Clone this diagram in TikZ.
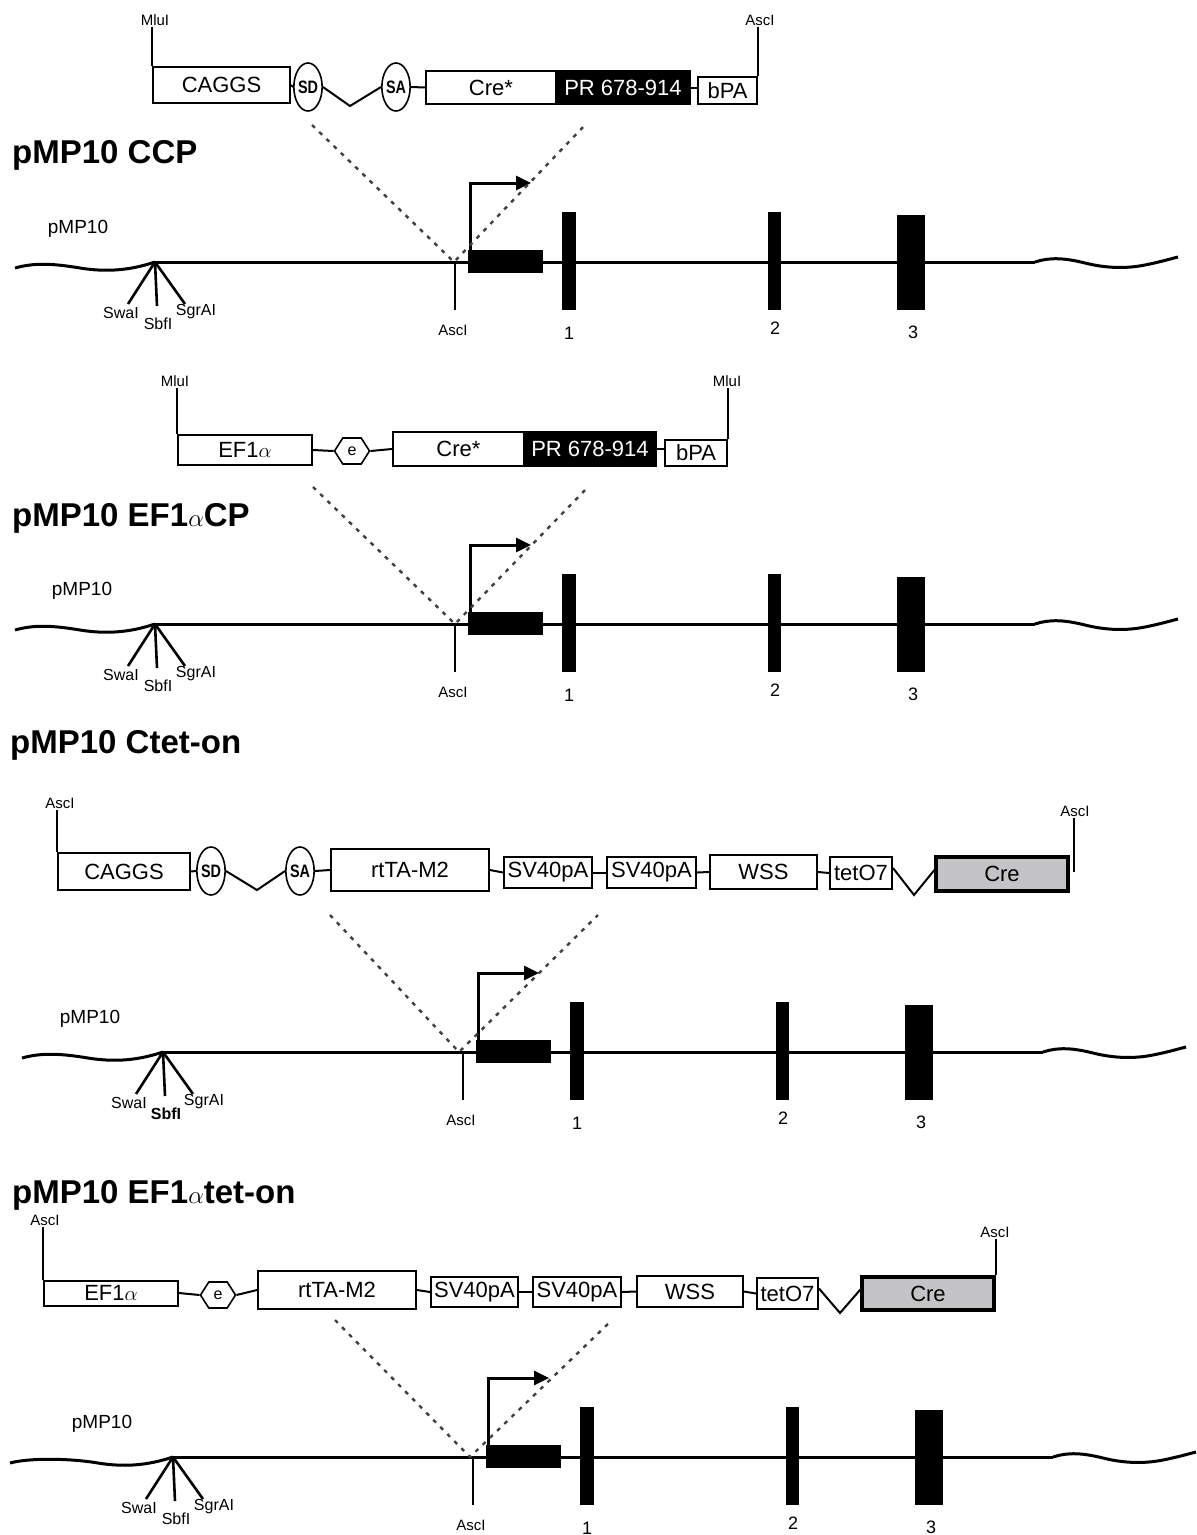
\documentclass[tikz,border=0pt]{standalone}
\usepackage{fontspec}
\setmainfont{Liberation Sans}
\usetikzlibrary{shapes.geometric,shapes.symbols,arrows.meta,calc}
\definecolor{creg}{RGB}{196,196,198}
\newcommand\drawlocus[6]{%
\begin{scope}[shift={(#2,#3)}]
\coordinate (#1apex) at (155,0);
\coordinate (#1end) at (1035,0);
\coordinate (#1ws) at (#4,6);
\coordinate (#1we) at (1178,-5);
\draw[dna] (#1ws) .. controls (#4+18,1) and (50,1) .. (80,6) .. controls (105,10) and (128,9) .. (#1apex);
\draw[dna] (#1end) .. controls (1050,-5) and (1065,-4) .. (1085,1) .. controls (1105,6) and (1125,7) .. (1145,3) .. controls (1160,0) and (1170,-3) .. (#1we);
\draw[dna] (#1apex) -- (#1end);
\coordinate (#1f1) at (128,42);
\coordinate (#1f2) at (157,44);
\coordinate (#1f3) at (185,42);
\draw[fanl] (#1apex) -- (#1f1);
\draw[fanl] (#1apex) -- (#1f2);
\draw[fanl] (#1apex) -- (#1f3);
\node[small] (#1swa) at (121,51) {SwaI};
\node[small,font=\fontsize{16}{16}\selectfont#5] (#1sbf) at (158,62) {SbfI};
\node[small] (#1sgr) at (196,50) {SgrAI};
\node[lab] (#1pmp) at (#6,-33) {pMP10};
\coordinate (#1a0) at (455,0);
\coordinate (#1a1) at (455,48);
\draw[sitel] (#1a0) -- (#1a1);
\node[site] (#1al) at (453,68) {AscI};
\node[exon,minimum width=75,minimum height=23] (#1ex0) at (505.5,-0.5) {};
\node[exon,minimum width=14,minimum height=98] (#1ex1) at (569,-1) {};
\node[exon,minimum width=13,minimum height=98] (#1ex2) at (774.5,-1) {};
\node[exon,minimum width=28,minimum height=95] (#1ex3) at (911,0.5) {};
\node[num] (#1n1) at (569,71) {1};
\node[num] (#1n2) at (775,66) {2};
\node[num] (#1n3) at (913,70) {3};
\coordinate (#1ps) at (470,-12);
\coordinate (#1pc) at (470,-79);
\coordinate (#1pe) at (531,-79);
\draw[prom] (#1ps) -- (#1pc) -- (#1pe);
\end{scope}}
\begin{document}
\begin{tikzpicture}[x=1pt,y=-1pt,
  bx/.style={draw,line width=2pt,inner sep=0pt,font=\fontsize{22}{22}\selectfont},
  blackbox/.style={bx,fill=black,text=white},
  crebox/.style={bx,fill=creg,line width=3.2pt},
  splice/.style={draw,ellipse,line width=1.6pt,inner sep=0pt,minimum width=28pt,minimum height=48pt,font=\fontsize{18}{18}\selectfont\bfseries},
  enh/.style={draw,signal,signal to=west and east,signal pointer angle=115,line width=1.6pt,inner sep=0pt,minimum width=35pt,minimum height=26pt,font=\fontsize{16}{16}\selectfont},
  site/.style={font=\fontsize{15}{15}\selectfont,inner sep=1.5pt},
  small/.style={font=\fontsize{16}{16}\selectfont,inner sep=1pt},
  lab/.style={font=\fontsize{19}{19}\selectfont,inner sep=1pt},
  num/.style={font=\fontsize{18}{18}\selectfont,inner sep=1pt},
  ttl/.style={font=\fontsize{33}{33}\selectfont\bfseries,inner sep=0pt,anchor=west},
  link/.style={line width=2pt},
  sitel/.style={line width=2pt},
  dna/.style={line width=3pt},
  fanl/.style={line width=2.6pt},
  exon/.style={fill=black,draw=none,inner sep=0pt},
  prom/.style={line width=3pt,-{Triangle[length=15pt,width=14pt]}},
  ins/.style={line width=2.4pt,dash pattern=on 4pt off 6pt,black!75},
]
\useasboundingbox (0,0) rectangle (1197,1535);

% ---------------- panel 1 ----------------
\node[site] (p1m) at (155,20) {MluI};
\node[bx,minimum width=137,minimum height=36] (p1cag) at (221.5,85) {CAGGS};
\node[splice] (p1sd) at (308,87) {\scalebox{0.8}[1]{SD}};
\node[splice] (p1sa) at (396,87) {\scalebox{0.8}[1]{SA}};
\coordinate (p1v) at (350,106);
\node[bx,minimum width=130,minimum height=33] (p1cre) at (491,87.5) {Cre*};
\node[blackbox,minimum width=134,minimum height=33] (p1pr) at (623,87.5) {PR 678-914};
\node[bx,minimum width=59,minimum height=27] (p1bpa) at (727.5,90.5) {bPA};
\node[site] (p1a) at (760,20) {AscI};
\draw[sitel] (p1cag.north west) -- (p1cag.north west |- p1m.south);
\draw[sitel] (p1bpa.north east) -- (p1bpa.north east |- p1a.south);
\draw[link] (p1cag.east) -- (p1sd.west);
\draw[link] (p1sd.east) -- (p1v) -- (p1sa.west);
\draw[link] (p1sa.east) -- (p1cre.west);
\draw[link] (p1pr.east) -- (p1pr.east -| p1bpa.west);
\node[ttl] (t1) at (12,155) {pMP10 CCP};
\drawlocus{g1}{0}{262}{15}{}{78}
\coordinate (d1l) at (312,125);
\coordinate (d1r) at (585,125);
\coordinate (d1b) at (454,262);
\draw[ins] (d1l) -- (d1b) -- (d1r);

% ---------------- panel 2 ----------------
\node[site] (p2m) at (175,381) {MluI};
\node[bx,minimum width=134,minimum height=30] (p2ef) at (245,450) {EF1$\alpha$};
\node[enh] (p2e) at (352,451) {e};
\node[bx,minimum width=131,minimum height=34] (p2cre) at (458.5,449) {Cre*};
\node[blackbox,minimum width=132,minimum height=34] (p2pr) at (590,449) {PR 678-914};
\node[bx,minimum width=62,minimum height=26] (p2bpa) at (696,453) {bPA};
\node[site] (p2m2) at (727,381) {MluI};
\draw[sitel] (p2ef.north west) -- (p2ef.north west |- p2m.south);
\draw[sitel] (p2bpa.north east) -- (p2bpa.north east |- p2m2.south);
\draw[link] (p2ef.east) -- (p2e.west);
\draw[link] (p2e.east) -- (p2cre.west);
\draw[link] (p2pr.east) -- (p2pr.east -| p2bpa.west);
\node[ttl] (t2) at (12,518) {pMP10 EF1$\alpha$CP};
\drawlocus{g2}{0}{624}{15}{}{82}
\coordinate (d2l) at (313,487);
\coordinate (d2r) at (588,487);
\coordinate (d2b) at (455,624);
\draw[ins] (d2l) -- (d2b) -- (d2r);

% ---------------- panel 3 ----------------
\node[ttl] (t3) at (10,745) {pMP10 Ctet-on};
\node[site] (p3a) at (60,803) {AscI};
\node[bx,minimum width=132,minimum height=37] (p3cag) at (124,871.5) {CAGGS};
\node[splice] (p3sd) at (211,871) {\scalebox{0.8}[1]{SD}};
\node[splice] (p3sa) at (300,871) {\scalebox{0.8}[1]{SA}};
\coordinate (p3v) at (257,890);
\node[bx,minimum width=158,minimum height=42] (p3rt) at (410,870) {rtTA-M2};
\node[bx,minimum width=88,minimum height=31] (p3sv1) at (548,872.5) {SV40pA};
\node[bx,minimum width=89,minimum height=31] (p3sv2) at (651.5,872.5) {SV40pA};
\node[bx,minimum width=107,minimum height=34] (p3wss) at (763.5,872) {WSS};
\node[bx,minimum width=62,minimum height=32] (p3tet) at (861,873) {tetO7};
\coordinate (p3v2) at (914,895);
\node[crebox,minimum width=132,minimum height=34] (p3cre) at (1002,874) {Cre};
\node[site] (p3a2) at (1075,811) {AscI};
\coordinate (p3ae) at (1074,872);
\draw[sitel] (p3cag.north west) -- (p3cag.north west |- p3a.south);
\draw[sitel] (p3ae) -- (p3ae |- p3a2.south);
\draw[link] (p3cag.east) -- (p3sd.west);
\draw[link] (p3sd.east) -- (p3v) -- (p3sa.west);
\draw[link] (p3sa.east) -- (p3rt.west);
\draw[link] (p3rt.east) -- (p3sv1.west);
\draw[link] (p3sv1.east) -- (p3sv2.west);
\draw[link] (p3sv2.east) -- (p3wss.west);
\draw[link] (p3wss.east) -- (p3tet.west);
\draw[link] ($(p3tet.east)+(0,-5)$) -- (p3v2) -- ($(p3cre.west)+(0,-4)$);
\drawlocus{g3}{8}{1052}{14}{\bfseries}{82}
\coordinate (d3l) at (330,915);
\coordinate (d3r) at (598,915);
\coordinate (d3b) at (459,1052);
\draw[ins] (d3l) -- (d3b) -- (d3r);

% ---------------- panel 4 ----------------
\node[ttl] (t4) at (12,1195) {pMP10 EF1$\alpha$tet-on};
\node[site] (p4a) at (45,1220) {AscI};
\node[bx,minimum width=134,minimum height=25] (p4ef) at (111,1293) {EF1$\alpha$};
\node[enh] (p4e) at (218,1295) {e};
\node[bx,minimum width=158,minimum height=38] (p4rt) at (337,1290) {rtTA-M2};
\node[bx,minimum width=87,minimum height=30] (p4sv1) at (474.5,1292) {SV40pA};
\node[bx,minimum width=88,minimum height=30] (p4sv2) at (577,1292) {SV40pA};
\node[bx,minimum width=106,minimum height=31] (p4wss) at (690,1291.5) {WSS};
\node[bx,minimum width=61,minimum height=31] (p4tet) at (787.5,1293.5) {tetO7};
\coordinate (p4v2) at (840,1313);
\node[crebox,minimum width=132,minimum height=33] (p4cre) at (928,1293.5) {Cre};
\node[site] (p4a2) at (995,1232) {AscI};
\draw[sitel] (p4ef.north west) -- (p4ef.north west |- p4a.south);
\draw[sitel] (p4cre.north east) -- (p4cre.north east |- p4a2.south);
\draw[link] (p4ef.east) -- (p4e.west);
\draw[link] (p4e.east) -- (p4rt.west);
\draw[link] (p4rt.east) -- (p4sv1.west);
\draw[link] (p4sv1.east) -- (p4sv2.west);
\draw[link] (p4sv2.east) -- (p4wss.west);
\draw[link] (p4wss.east) -- (p4tet.west);
\draw[link] ($(p4tet.east)+(0,-5)$) -- (p4v2) -- ($(p4cre.west)+(0,-4)$);
\drawlocus{g4}{18}{1457}{-8}{}{84}
\coordinate (d4l) at (335,1320);
\coordinate (d4r) at (612,1320);
\coordinate (d4b) at (470,1457);
\draw[ins] (d4l) -- (d4b) -- (d4r);
\end{tikzpicture}
\end{document}
